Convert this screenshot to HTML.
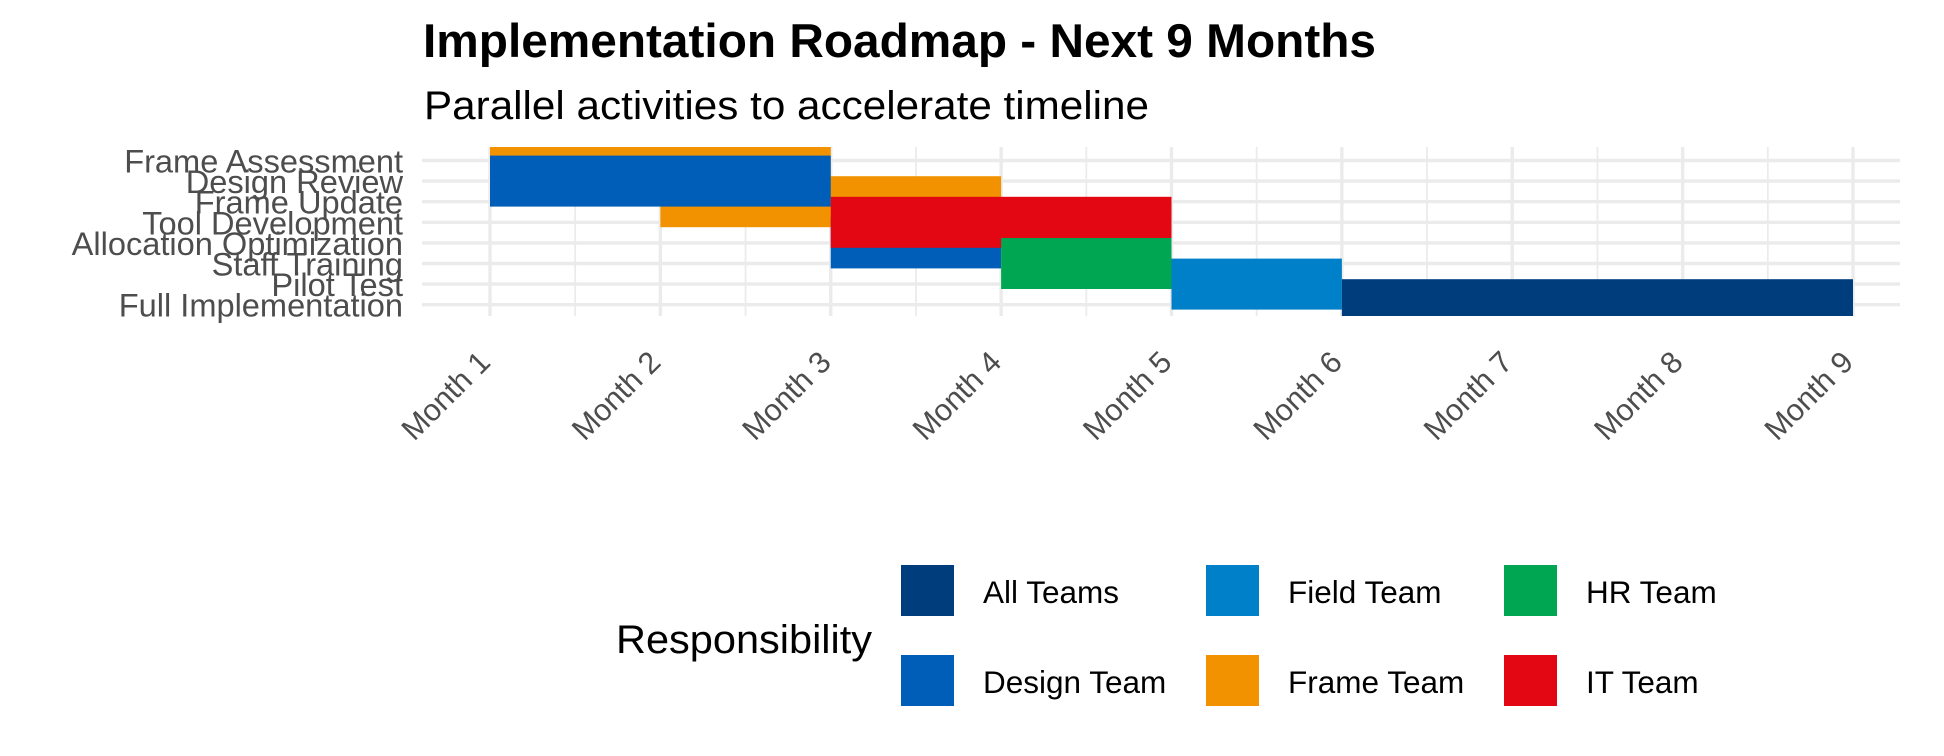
<!DOCTYPE html>
<html><head><meta charset="utf-8"><style>
html,body{margin:0;padding:0;background:#fff;}
svg{display:block;font-family:"Liberation Sans",Arial,sans-serif;}
</style></head><body>
<svg id="chart" width="1944" height="756" viewBox="0 0 1944 756">
<text x="423" y="57" font-size="47" font-weight="bold" fill="#000" textLength="953" lengthAdjust="spacingAndGlyphs">Implementation Roadmap - Next 9 Months</text>
<text x="424" y="119" font-size="40" fill="#000" textLength="725" lengthAdjust="spacingAndGlyphs">Parallel activities to accelerate timeline</text>
<defs><clipPath id="panelClip"><rect x="422" y="147" width="1480" height="169"/></clipPath></defs>
<g id="grid"></g>
<g id="bars" clip-path="url(#panelClip)"></g>
<g id="yaxis"></g>
<g id="xaxis"></g>
<g id="legend">
<text x="616" y="653" font-size="40" fill="#000" textLength="256" lengthAdjust="spacingAndGlyphs">Responsibility</text>
</g>
</svg>
<script>
const tasks = ["Frame Assessment","Design Review","Frame Update","Tool Development","Allocation Optimization","Staff Training","Pilot Test","Full Implementation"];
const starts = [1,1,2,3,3,4,5,6];
const ends = [3,3,4,5,4,5,6,9];
const teams = ["Frame Team","Design Team","Frame Team","IT Team","Design Team","HR Team","Field Team","All Teams"];
const drawOrder = [0,2,1,4,3,5,6,7];
const monthLabels = ["Month 1","Month 2","Month 3","Month 4","Month 5","Month 6","Month 7","Month 8","Month 9"];
const legendTeams = ["All Teams","Field Team","HR Team","Design Team","Frame Team","IT Team"];
const teamColors = {"All Teams":"#003D7C","Field Team":"#0080C9","HR Team":"#00A651","Design Team":"#005EB8","Frame Team":"#F39200","IT Team":"#E30613"};

const NS="http://www.w3.org/2000/svg";
const px0=422, px1=1900, py0=147, py1=316;
const xMin=1, xMax=9;
const xs = m => 490 + (m - xMin) * (1853 - 490) / (xMax - xMin);
const rowStep = 20.6;
const ys = i => 160.5 + i * rowStep;
const barH = 51;
function mk(tag, attrs, parent){const e=document.createElementNS(NS,tag);for(const k in attrs)e.setAttribute(k,attrs[k]);parent.appendChild(e);return e;}

const grid=document.getElementById('grid');
for(let m=xMin;m<xMax;m++){
  const l=mk('line',{x1:xs(m+0.5),x2:xs(m+0.5),y1:py0,y2:py1,stroke:'#EBEBEB','stroke-width':1.8},grid);
  
  
}
for(let m=xMin;m<=xMax;m++){
  const l=mk('line',{x1:xs(m),x2:xs(m),y1:py0,y2:py1,stroke:'#EBEBEB','stroke-width':3.4},grid);
  
  
}
tasks.forEach((t,i)=>{
  const l=mk('line',{x1:px0,x2:px1,y1:ys(i),y2:ys(i),stroke:'#EBEBEB','stroke-width':3.4},grid);
  
  
});

const bars=document.getElementById('bars');
drawOrder.forEach(i=>{
  const r=mk('rect',{x:xs(starts[i]),y:ys(i)-barH/2,width:xs(ends[i])-xs(starts[i]),height:barH,fill:teamColors[teams[i]]},bars);
  
  
});

const yaxis=document.getElementById('yaxis');
tasks.forEach((t,i)=>{
  const tx=mk('text',{x:403,y:ys(i)+12,'font-size':32.6,fill:'#4D4D4D','text-anchor':'end'},yaxis);
  tx.textContent=t;
  
  
});

const xaxis=document.getElementById('xaxis');
monthLabels.forEach((lab,k)=>{
  const x=xs(xMin+k)+2, y=364;
  const tx=mk('text',{x:x,y:y,'font-size':30.5,fill:'#4D4D4D','text-anchor':'end',transform:`rotate(-45 ${x} ${y})`},xaxis);
  tx.textContent=lab;
  
  
});

const legend=document.getElementById('legend');
const colX=[901,1206,1504], rowY=[565,655];
legendTeams.forEach((t,k)=>{
  const c=k%3, r=Math.floor(k/3);
  const sw=mk('rect',{x:colX[c],y:rowY[r],width:53,height:51,fill:teamColors[t]},legend);
  
  
  const tx=mk('text',{x:colX[c]+82,y:rowY[r]+38,'font-size':31.5,fill:'#000'},legend);
  tx.textContent=t;
  
  
});
</script>
</body></html>
